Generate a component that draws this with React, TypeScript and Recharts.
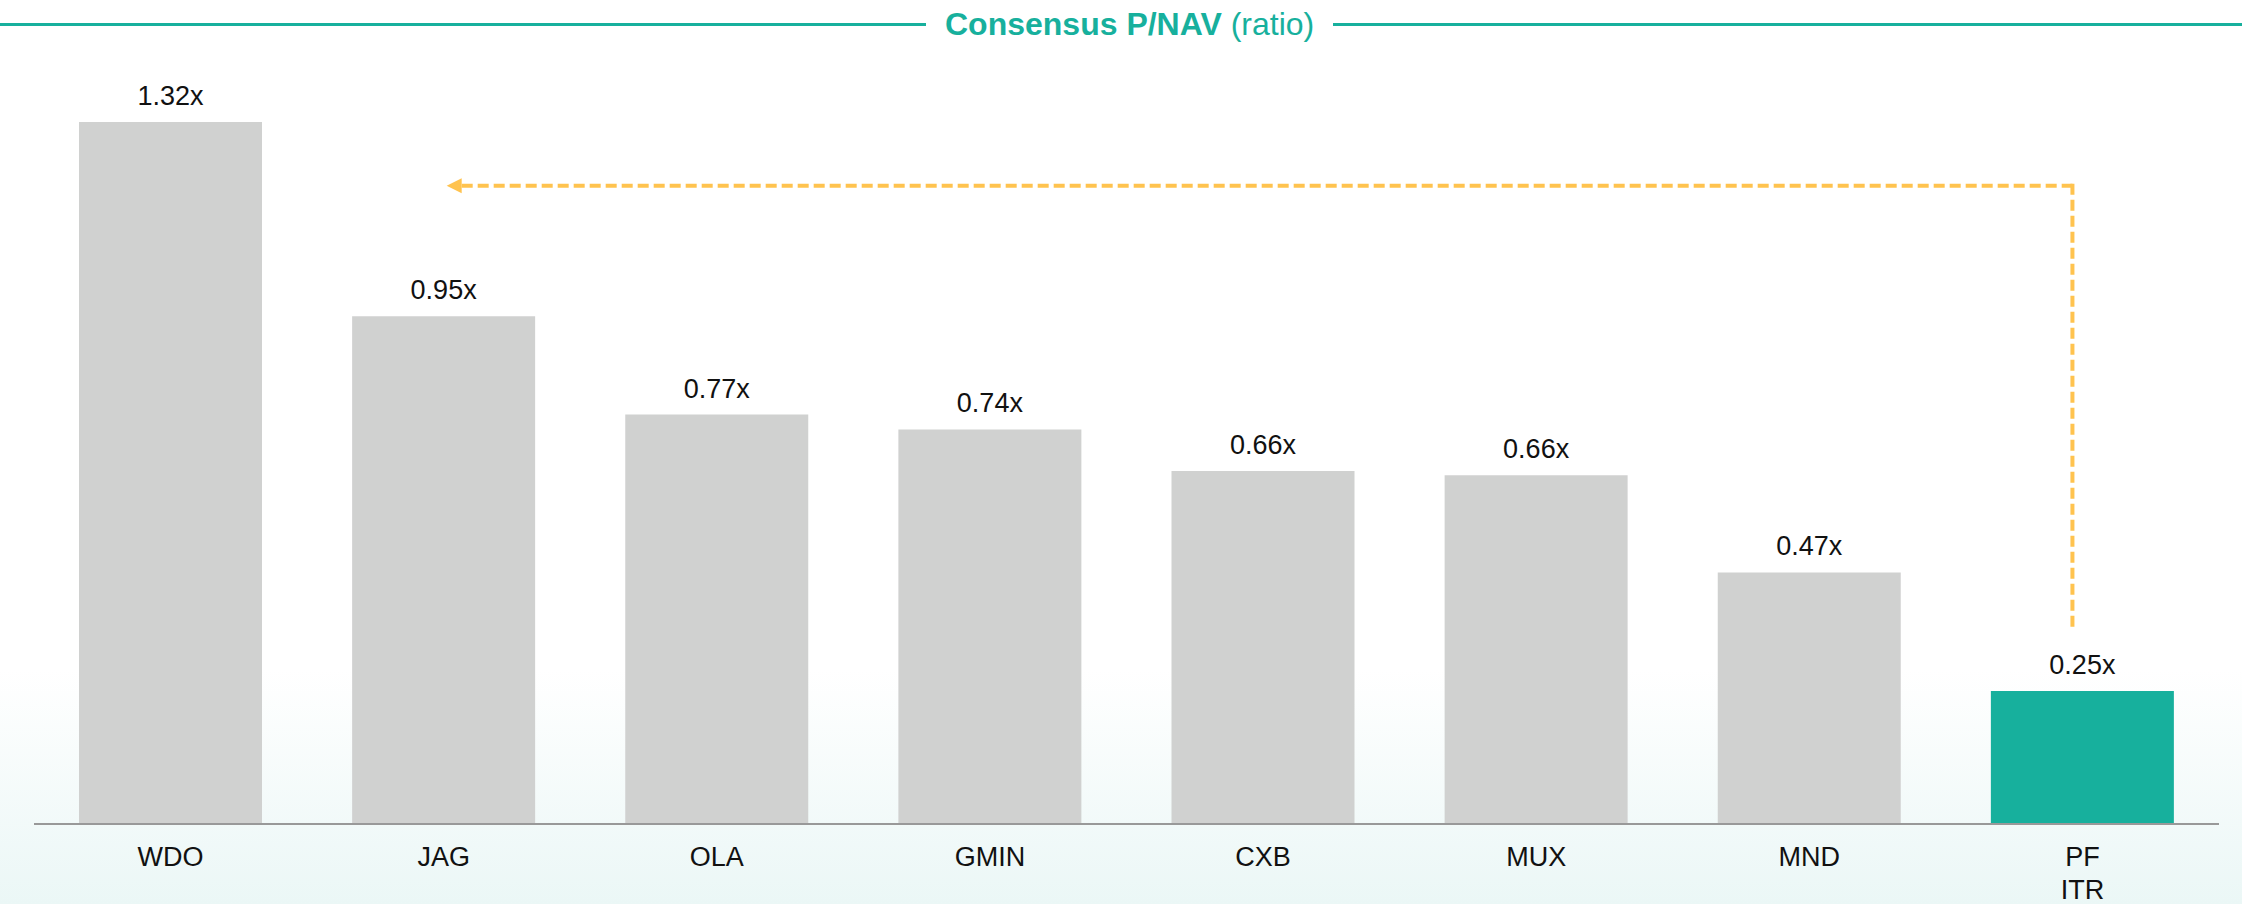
import { BarChart, Bar, XAxis, YAxis, Cell, LabelList, ReferenceLine, ReferenceDot } from "recharts"

const tickers = ['WDO', 'JAG', 'OLA', 'GMIN', 'CXB', 'MUX', 'MND', 'PF\nITR']
const pnavValues = [1.32, 0.955, 0.77, 0.742, 0.664, 0.656, 0.473, 0.25]
const valueLabels = ['1.32x', '0.95x', '0.77x', '0.74x', '0.66x', '0.66x', '0.47x', '0.25x']
const highlighted = ['PF\nITR']

const arrowLevel = 1.2
const arrowFoot = 0.37

const FONT = '"Liberation Sans", Arial, sans-serif'
const TEAL = '#17b09d'
const GREY = '#d0d1d0'
const AMBER = '#ffc34f'

const chartData = tickers.map((name, i) => ({ name, value: pnavValues[i], label: valueLabels[i] }))

const TickLabel = (props: any) => {
  const { x, y, payload } = props
  const lines = String(payload.value).split('\n')
  return (
    <text x={x} y={y} textAnchor="middle" fill="#111" fontSize={27} fontFamily={FONT}>
      {lines.map((line, i) => (
        <tspan key={i} x={x} dy={i === 0 ? 42 : 32.5}>{line}</tspan>
      ))}
    </text>
  )
}

const ValueLabel = (props: any) => {
  const { x, y, width, index } = props
  return (
    <text x={x + width / 2} y={y - 17} textAnchor="middle" fill="#111" fontSize={27} fontFamily={FONT}>
      {valueLabels[index]}
    </text>
  )
}

const ArrowHead = (props: any) => {
  const { cx, cy } = props
  return <polygon points={`${cx + 3},${cy} ${cx + 18},${cy - 7.5} ${cx + 18},${cy + 7.5}`} fill={AMBER} />
}

// the connector sits a little left of the PF ITR bar centre
const nudge = 10

const HorizontalLeg = (props: any) => {
  const { x1, y1, x2, y2 } = props
  return <line x1={x1 + 18} y1={y1} x2={x2 - nudge} y2={y2} stroke={AMBER} strokeWidth={4} strokeDasharray="11 5" />
}

const VerticalLeg = (props: any) => {
  const { x1, y1, x2, y2 } = props
  return <line x1={x1 - nudge} y1={y1 - 2} x2={x2 - nudge} y2={y2} stroke={AMBER} strokeWidth={4} strokeDasharray="11 5" />
}

const App = () => {
  return (
    <div style={{
      position: 'absolute', left: 0, top: 0, width: 2242, height: 904,
      background: 'linear-gradient(180deg, #ffffff 0%, #ffffff 74%, #ebf7f6 100%)',
      fontFamily: FONT
    }}>
      <div style={{ position: 'absolute', left: 0, top: 0, width: 2242, height: 48, display: 'flex', alignItems: 'center' }}>
        <div style={{ width: 926, height: 3, background: TEAL }} />
        <div style={{ margin: '0 19px', color: TEAL, fontSize: 32, whiteSpace: 'nowrap', lineHeight: '48px' }}>
          <span style={{ fontWeight: 700 }}>Consensus P/NAV</span> (ratio)
        </div>
        <div style={{ flex: 1, height: 3, background: TEAL }} />
      </div>
      <BarChart
        width={2242}
        height={904}
        data={chartData}
        margin={{ top: 79.5, right: 23, bottom: 20, left: 34 }}
        style={{ position: 'absolute', left: 0, top: 0 }}
      >
        <XAxis
          dataKey="name"
          height={60}
          interval={0}
          tickSize={0}
          tickMargin={0}
          tickLine={false}
          axisLine={{ stroke: '#999999', strokeWidth: 2 }}
          tick={<TickLabel />}
        />
        <YAxis hide domain={[0, 1.4]} />
        <Bar dataKey="value" barSize={183} isAnimationActive={false}>
          {chartData.map((d) => (
            <Cell key={d.name} fill={highlighted.includes(d.name) ? TEAL : GREY} />
          ))}
          <LabelList dataKey="value" content={<ValueLabel />} />
        </Bar>
        <ReferenceLine
          segment={[{ x: 'JAG', y: arrowLevel }, { x: 'PF\nITR', y: arrowLevel }]}
          shape={<HorizontalLeg />}
        />
        <ReferenceLine
          segment={[{ x: 'PF\nITR', y: arrowLevel }, { x: 'PF\nITR', y: arrowFoot }]}
          shape={<VerticalLeg />}
        />
        <ReferenceDot x="JAG" y={arrowLevel} r={8} shape={<ArrowHead />} />
      </BarChart>
    </div>
  )
}

export default App
